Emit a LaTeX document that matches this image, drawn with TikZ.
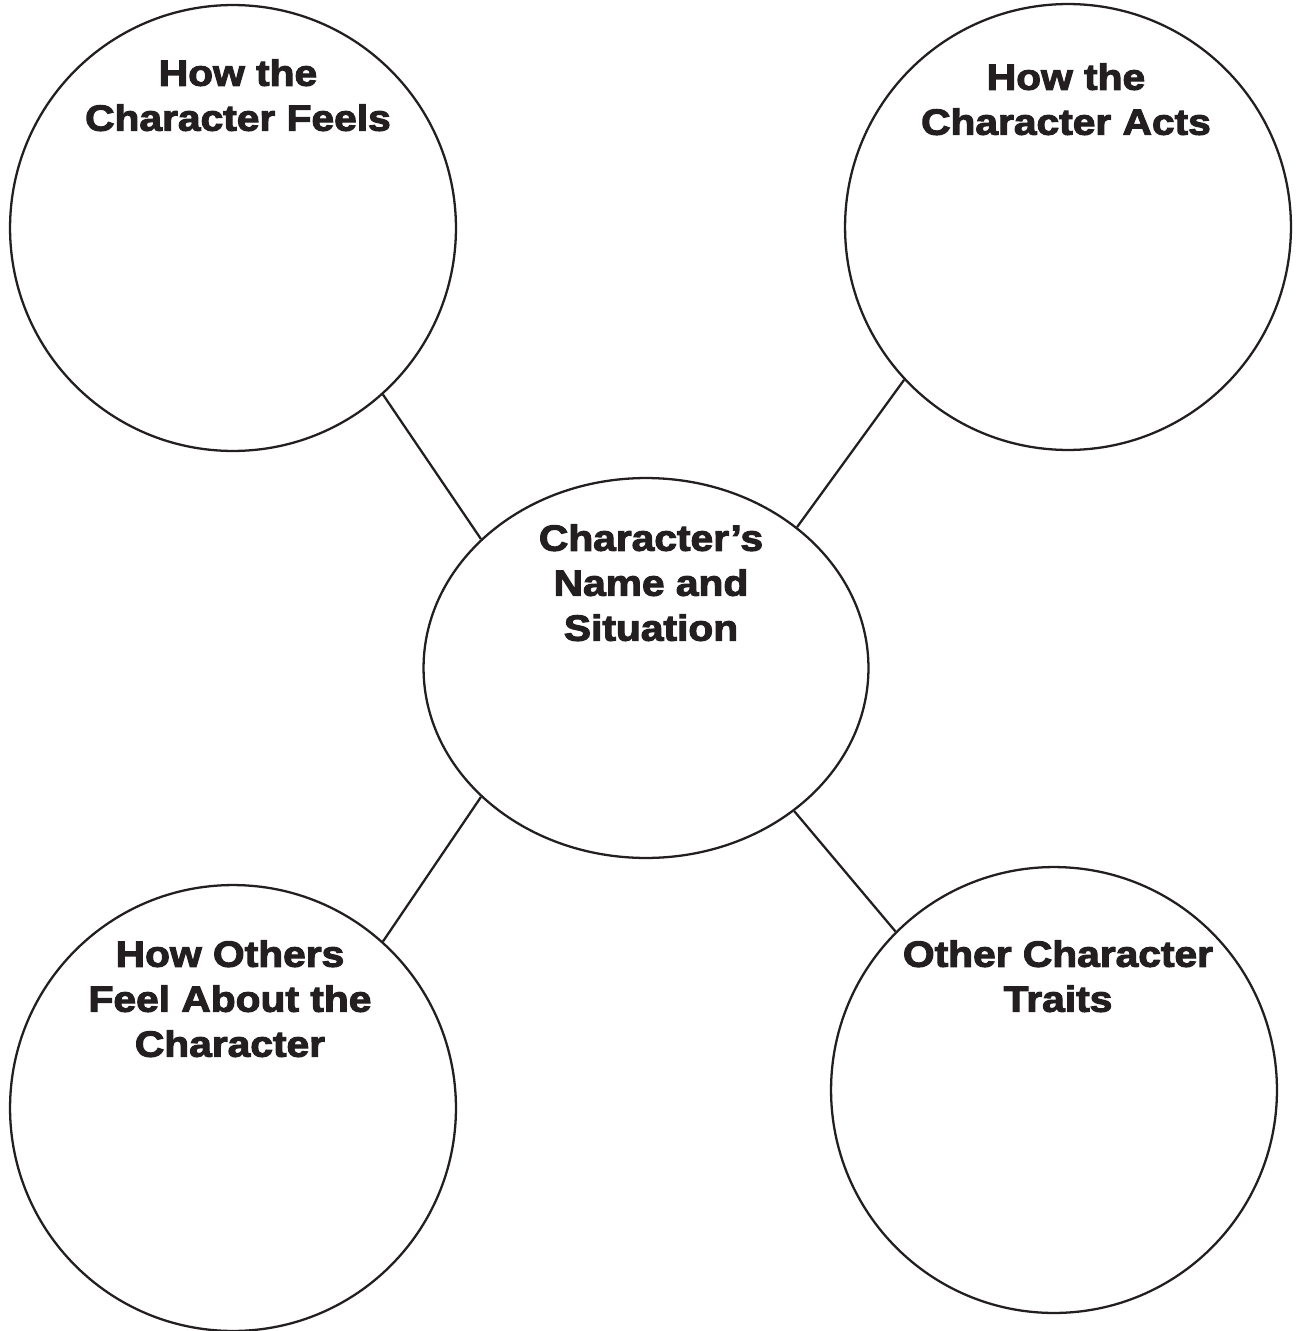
\documentclass[tikz,border=0pt]{standalone}
\usepackage{fontspec}
\newfontfamily\blackfont[FakeBold=3,FakeStretch=1.12]{Liberation Sans Bold}
\usetikzlibrary{shapes.geometric}
\definecolor{ink}{HTML}{231F20}
\tikzset{
  bubble/.style = {circle, draw = ink, line width = 1.3pt, minimum size = 8.92cm, inner sep = 0pt},
  hub/.style = {ellipse, draw = ink, line width = 1.3pt, minimum width = 8.9cm, minimum height = 7.6cm, inner sep = 0pt},
  lbl/.style = {anchor = north, align = center, inner sep = 0pt, text = ink,
    font = \blackfont\fontsize{20.7pt}{25.6pt}\selectfont},
  spoke/.style = {draw = ink, line width = 1.3pt}
}
\begin{document}
\begin{tikzpicture}[x = 0.02cm, y = -0.02cm]
  \useasboundingbox (0,0) rectangle (1301,1331);

  \node[hub] (name) at (646,668) {};
  \node[bubble] (feels) at (233,228) {};
  \node[bubble] (acts) at (1068,227) {};
  \node[bubble] (others) at (233,1108) {};
  \node[bubble] (traits) at (1054,1090) {};

  \node[lbl] (nametext) at (651,524) {Character’s\\Name and\\Situation};
  \node[lbl] (feelstext) at (238,59) {How the\\Character Feels};
  \node[lbl] (actstext) at (1066,63) {How the\\Character Acts};
  \node[lbl] (otherstext) at (230,940) {How Others\\Feel About the\\Character};
  \node[lbl] (traitstext) at (1058,940) {Other Character\\Traits};

  \draw[spoke] (feels.312) -- (name.142);
  \draw[spoke] (acts.223) -- (name.43);
  \draw[spoke] (others.48) -- (name.218);
  \draw[spoke] (traits.135) -- (name.316);
\end{tikzpicture}
\end{document}
